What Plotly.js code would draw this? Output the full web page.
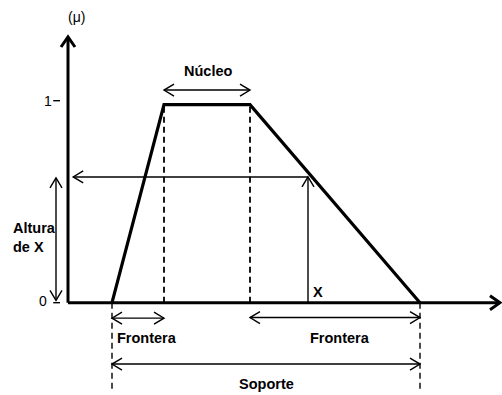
<!DOCTYPE html>
<html>
<head>
<meta charset="utf-8">
<script src="https://cdn.plot.ly/plotly-3.0.1.min.js"></script>
<style>html,body{margin:0;padding:0;background:#fff;}#chart{width:502px;height:395px;}</style>
</head>
<body>
<div id="chart"></div>
<script>
// Trapezoidal membership function (support start, core start, core end, support end)
var trapX = [1.1, 2.4, 4.55, 8.8];
var trapY = [0, 1, 1, 0];
// Point X and its membership degree
var pointX = 6.0;
var pointMu = 0.635;
// Axis extents and ticks
var xAxisEnd = 10.8;
var yAxisEnd = 1.342;
var yTicks = [0, 1];
var yTickLabels = ['0', '1'];
// Annotation levels
var nucleoLevel = 1.074;
var fronteraLevel = -0.075;
var soporteLevel = -0.31;
var dashBottom = -0.44;
var alturaX = -0.3;

var FONT = 'Liberation Sans, Arial, sans-serif';
var shapes = [];
var ann = [];

function line(x0, y0, x1, y1, w, dash) {
  shapes.push({type: 'line', xref: 'x', yref: 'y', x0: x0, y0: y0, x1: x1, y1: y1,
    line: {color: '#000', width: w, dash: dash || 'solid'}});
}
function chevron(x, y, dir, w, L, H) {
  var p;
  if (dir === 'r') p = 'M ' + (-L) + ' ' + H + ' L 0 0 L ' + (-L) + ' ' + (-H);
  else if (dir === 'l') p = 'M ' + L + ' ' + H + ' L 0 0 L ' + L + ' ' + (-H);
  else if (dir === 'u') p = 'M ' + (-H) + ' ' + (-L) + ' L 0 0 L ' + H + ' ' + (-L);
  else p = 'M ' + (-H) + ' ' + L + ' L 0 0 L ' + H + ' ' + L;
  shapes.push({type: 'path', xref: 'x', yref: 'y', xsizemode: 'pixel', ysizemode: 'pixel',
    xanchor: x, yanchor: y, path: p, line: {color: '#000', width: w}});
}
function hArrow(x0, x1, y, both) {
  line(x0, y, x1, y, 1.4);
  chevron(x1, y, x1 > x0 ? 'r' : 'l', 1.4, 10, 6);
  if (both) chevron(x0, y, x1 > x0 ? 'l' : 'r', 1.4, 10, 6);
}
function text(t, x, y, opts) {
  opts = opts || {};
  ann.push({text: t, x: x, y: y, xref: 'x', yref: 'y', showarrow: false,
    xanchor: opts.xanchor || 'center', yanchor: 'middle', align: opts.align || 'center',
    yshift: opts.yshift || 0,
    font: {family: FONT, size: opts.size || 14.5, color: '#000', weight: opts.weight || 'bold'}});
}

// Axes
line(0, 0, 0, yAxisEnd, 3);
chevron(0, yAxisEnd, 'u', 3, 10, 7);
line(0, 0, xAxisEnd, 0, 3);
chevron(xAxisEnd, 0, 'r', 3, 10, 7);

// Ticks
for (var i = 0; i < yTicks.length; i++) {
  var ys = yTicks[i] === 1 ? 4 : 0;
  shapes.push({type: 'line', xref: 'x', yref: 'y', ysizemode: 'pixel', yanchor: yTicks[i],
    x0: -0.37, x1: -0.2, y0: ys, y1: ys, line: {color: '#000', width: 1.4}});
  text(yTickLabels[i], yTicks[i] === 1 ? -0.5 : -0.62, yTicks[i],
    {size: 14, weight: 'normal', yshift: yTicks[i] === 1 ? 4 : 2});
}

// Dashed guides
line(trapX[1], 0, trapX[1], trapY[1], 1.8, '6px,4px');
line(trapX[2], 0, trapX[2], trapY[2], 1.8, '6px,4px');
line(trapX[0], 0, trapX[0], dashBottom, 1.4, '6px,4px');
line(trapX[3], 0, trapX[3], dashBottom, 1.4, '6px,4px');

// Point X construction
line(pointX, 0, pointX, pointMu, 1.4);
chevron(pointX, pointMu, 'u', 1.4, 10, 6);
hArrow(pointX, 0.13, pointMu, false);

// Altura de X
line(alturaX, 0.012, alturaX, pointMu - 0.005, 1.4);
chevron(alturaX, pointMu - 0.005, 'u', 1.4, 10, 6);
chevron(alturaX, 0.012, 'd', 1.4, 10, 6);

// Dimension arrows
hArrow(trapX[1], trapX[2], nucleoLevel, true);
hArrow(trapX[0], trapX[1], fronteraLevel - 0.003, true);
hArrow(trapX[2], trapX[3], fronteraLevel, true);
hArrow(trapX[0], trapX[3], soporteLevel, true);

// Labels
text('Núcleo', 3.49, 1.168);
text('Frontera', 1.175, -0.178, {xanchor: 'left'});
text('Frontera', 6.8, -0.178);
text('Soporte', 4.95, -0.41);
text('Altura<br>de X', -1.43, 0.33, {xanchor: 'left', align: 'left'});
text('X', 6.25, 0.055);
text('(μ)', 0.2, 1.443, {size: 14, weight: 'normal'});

var data = [{
  x: trapX, y: trapY, type: 'scatter', mode: 'lines',
  line: {color: '#000', width: 3.2}, hoverinfo: 'skip'
}];

var layout = {
  width: 502, height: 395,
  margin: {l: 0, r: 0, t: 0, b: 0},
  paper_bgcolor: '#fff', plot_bgcolor: '#fff',
  showlegend: false,
  xaxis: {range: [-1.7, 10.85], visible: false, fixedrange: true},
  yaxis: {range: [-0.4662, 1.5288], visible: false, fixedrange: true},
  shapes: shapes,
  annotations: ann
};
Plotly.newPlot('chart', data, layout, {displayModeBar: false, staticPlot: true});
</script>
</body>
</html>
